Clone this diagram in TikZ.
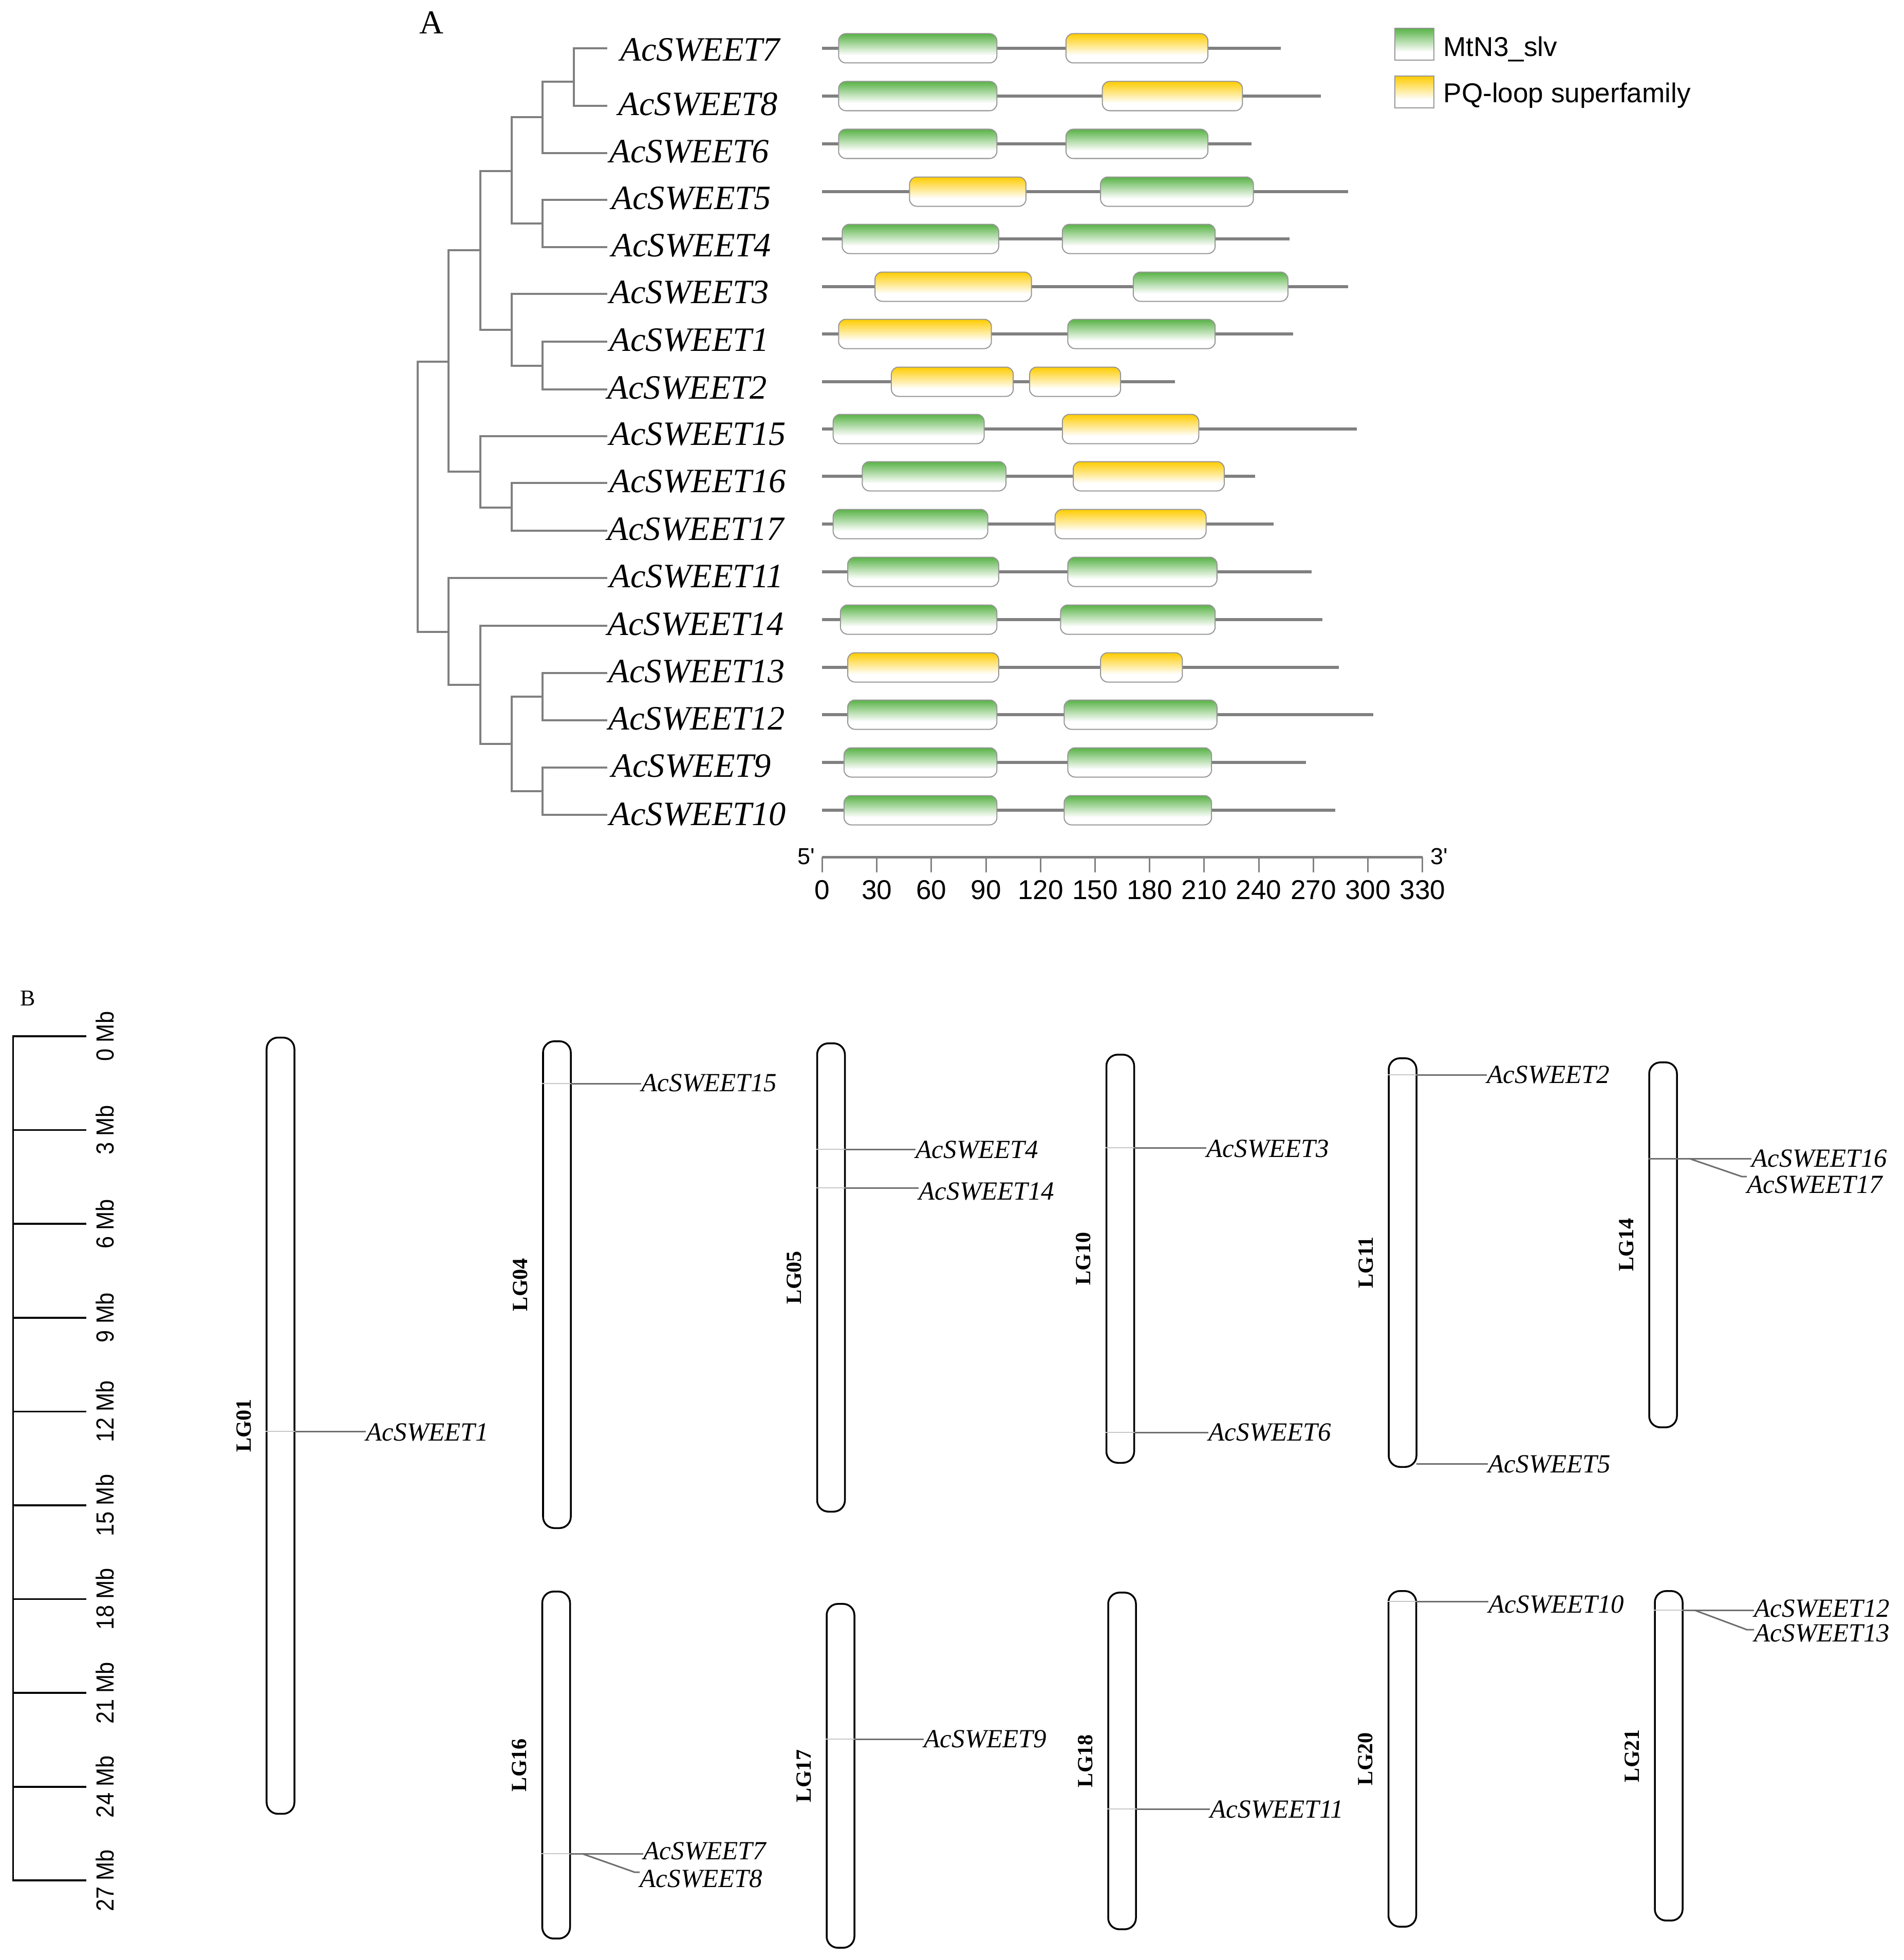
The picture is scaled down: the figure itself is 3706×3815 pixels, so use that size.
\documentclass[tikz,border=0pt]{standalone}
\usepackage{fontspec}
\setmainfont{Liberation Serif}
\newfontfamily\arialfont{Liberation Sans}
\newfontfamily\mbfont[FakeStretch=0.9]{Liberation Sans}
\usetikzlibrary{positioning}
\definecolor{treegray}{RGB}{128,128,128}
\definecolor{linegray}{RGB}{128,128,128}
\definecolor{boxedge}{RGB}{150,150,150}
\definecolor{linkgray}{RGB}{110,110,110}
\definecolor{mtngreen}{RGB}{88,178,70}
\definecolor{pqlyellow}{RGB}{255,204,0}
\pgfdeclareverticalshading{mtn}{100bp}{color(0bp)=(white); color(38bp)=(white); color(75bp)=(mtngreen); color(100bp)=(mtngreen)}
\pgfdeclareverticalshading{pql}{100bp}{color(0bp)=(white); color(38bp)=(white); color(75bp)=(pqlyellow); color(100bp)=(pqlyellow)}
\tikzset{
    branch/.style={draw=treegray, line width=0.04cm},
    leaflabel/.style={anchor=west, inner sep=0, font=\itshape\fontsize{18.9}{22}\selectfont},
    backbone/.style={draw=linegray, line width=0.06cm},
    dom/.style={draw=boxedge, line width=0.02cm, rounded corners=0.14cm, shade, shading=#1},
    tick/.style={draw=linegray, line width=0.03cm},
    axisnum/.style={anchor=base, inner sep=0, font=\arialfont\fontsize{15.1}{17}\selectfont},
    legendtext/.style={anchor=base west, inner sep=0, font=\arialfont\fontsize{15.1}{17}\selectfont},
    chrom/.style={draw, line width=0.035cm, rounded corners=0.22cm, minimum width=0.54cm, inner sep=0, fill=white},
    lglabel/.style={rotate=90, inner sep=0, font=\bfseries\fontsize{12}{14}\selectfont},
    bgene/.style={anchor=west, inner sep=0, font=\itshape\fontsize{14.5}{17}\selectfont},
    genelink/.style={draw=linkgray, line width=0.03cm},
    inlink/.style={draw=black!22, line width=0.02cm},
    mbtick/.style={line width=0.035cm},
    mblabel/.style={rotate=90, inner sep=0, font=\mbfont\fontsize{13.7}{16}\selectfont}
}

\begin{document}
\begin{tikzpicture}[x=0.01cm, y=-0.01cm]
\useasboundingbox (0,0) rectangle (3706,3815);

% panel A
\node[font=\fontsize{18.5}{20}\selectfont, inner sep=0] (pa) at (840,44) {A};

% leaves
\coordinate (l7) at (1182,94);
\coordinate (l8) at (1182,206);
\coordinate (l6) at (1182,298);
\coordinate (l5) at (1182,389);
\coordinate (l4) at (1182,481);
\coordinate (l3) at (1182,572);
\coordinate (l1) at (1182,665);
\coordinate (l2) at (1182,758);
\coordinate (l15) at (1182,849);
\coordinate (l16) at (1182,940);
\coordinate (l17) at (1182,1033);
\coordinate (l11) at (1182,1125);
\coordinate (l14) at (1182,1218);
\coordinate (l13) at (1182,1310);
\coordinate (l12) at (1182,1402);
\coordinate (l9) at (1182,1494);
\coordinate (l10) at (1182,1586);

% inner nodes
\coordinate (n78) at (1117,159);
\coordinate (n786) at (1056,228);
\coordinate (n54) at (1056,435);
\coordinate (na) at (995.6,333);
\coordinate (n12) at (1056,712);
\coordinate (n312) at (995.6,642);
\coordinate (nb) at (935,487);
\coordinate (n1617) at (995.6,988);
\coordinate (n15) at (935,918);
\coordinate (nc) at (873,704);
\coordinate (n1312) at (1056,1356);
\coordinate (n910) at (1056,1540);
\coordinate (nd) at (995.6,1448);
\coordinate (n14) at (935,1333);
\coordinate (n11) at (873,1230);
\coordinate (root) at (813,967);

\draw[branch] (l7) -| (n78) |- (l8);
\draw[branch] (n78) -| (n786) |- (l6);
\draw[branch] (l5) -| (n54) |- (l4);
\draw[branch] (n786) -| (na) |- (n54);
\draw[branch] (l1) -| (n12) |- (l2);
\draw[branch] (l3) -| (n312) |- (n12);
\draw[branch] (na) -| (nb) |- (n312);
\draw[branch] (l16) -| (n1617) |- (l17);
\draw[branch] (l15) -| (n15) |- (n1617);
\draw[branch] (nb) -| (nc) |- (n15);
\draw[branch] (l13) -| (n1312) |- (l12);
\draw[branch] (l9) -| (n910) |- (l10);
\draw[branch] (n1312) -| (nd) |- (n910);
\draw[branch] (l14) -| (n14) |- (nd);
\draw[branch] (l11) -| (n11) |- (n14);
\draw[branch] (nc) -| (root) |- (n11);

\node[leaflabel] (t7) at (1207,97) {AcSWEET7};
\node[leaflabel] (t8) at (1203,203) {AcSWEET8};
\node[leaflabel] (t6) at (1186,295) {AcSWEET6};
\node[leaflabel] (t5) at (1190,386) {AcSWEET5};
\node[leaflabel] (t4) at (1190,478) {AcSWEET4};
\node[leaflabel] (t3) at (1186,569) {AcSWEET3};
\node[leaflabel] (t1) at (1186,662) {AcSWEET1};
\node[leaflabel] (t2) at (1182,755) {AcSWEET2};
\node[leaflabel] (t15) at (1186,845) {AcSWEET15};
\node[leaflabel] (t16) at (1186,937) {AcSWEET16};
\node[leaflabel] (t17) at (1182,1030) {AcSWEET17};
\node[leaflabel] (t11) at (1186,1122) {AcSWEET11};
\node[leaflabel] (t14) at (1182,1215) {AcSWEET14};
\node[leaflabel] (t13) at (1184,1307) {AcSWEET13};
\node[leaflabel] (t12) at (1184,1399) {AcSWEET12};
\node[leaflabel] (t9) at (1190,1491) {AcSWEET9};
\node[leaflabel] (t10) at (1186,1585) {AcSWEET10};

% domains, x in amino acids
\begin{scope}[xshift=15.995cm, x=0.03538cm]
\foreach \y/\len/\da/\sa/\ea/\db/\sb/\eb in {
    94/252/mtn/9/96/pql/134/212,
    187/274/mtn/9/96/pql/154/231,
    280/236/mtn/9/96/mtn/134/212,
    373/289/pql/48/112/mtn/153/237,
    465/257/mtn/11/97/mtn/132/216,
    558/289/pql/29/115/mtn/171/256,
    650/259/pql/9/93/mtn/135/216,
    743/194/pql/38/105/pql/114/164,
    835/294/mtn/6/89/pql/132/207,
    927/238/mtn/22/101/pql/138/221,
    1020/248/mtn/6/91/pql/128/211,
    1113/269/mtn/14/97/mtn/135/217,
    1206/275/mtn/10/96/mtn/131/216,
    1299/284/pql/14/97/pql/153/198,
    1391/303/mtn/14/96/mtn/133/217,
    1484/266/mtn/12/96/mtn/135/214,
    1577/282/mtn/12/96/mtn/133/214}
{
    \draw[backbone] (0,\y) -- (\len,\y);
    \draw[dom=\da] (\sa,\y-28.5) rectangle (\ea,\y+28.5);
    \draw[dom=\db] (\sb,\y-28.5) rectangle (\eb,\y+28.5);
}
% scale
\draw[backbone, line width=0.05cm] (0,1668) -- (330,1668);
\foreach \t in {0,30,...,330} {
    \draw[tick] (\t,1668) -- (\t,1698);
    \node[axisnum] (ax\t) at (\t,1750) {\t};
}
\node[anchor=base, inner sep=0, font=\arialfont\fontsize{12.8}{14}\selectfont] (five) at (-8.9,1682) {5'};
\node[anchor=base, inner sep=0, font=\arialfont\fontsize{12.8}{14}\selectfont] (three) at (339.3,1682) {3'};
\end{scope}

% legend
\draw[dom=mtn, sharp corners] (2715,55) rectangle (2791,117);
\draw[dom=pql, sharp corners] (2715,148) rectangle (2791,210);
\node[legendtext] (lmtn) at (2809,110) {MtN3\_slv};
\node[legendtext] (lpql) at (2809,200) {PQ-loop superfamily};

% panel B
\node[font=\fontsize{12.5}{14}\selectfont, inner sep=0] (pb) at (54,1943) {B};

% scale bar
\draw[mbtick] (168,2017) -- (25.5,2017) -- (25.5,3660) -- (168,3660);
\foreach \i in {0,...,9} {
    \pgfmathtruncatemacro\mbv{3*\i}
    \draw[mbtick] (25.5,2017+182.6*\i) -- (168,2017+182.6*\i);
    \node[mblabel] (mb\i) at (204,2017+182.6*\i) {\mbv\ Mb};
}

% chromosomes
\node[chrom, minimum height=15.10cm] (lg01) at (546,2775) {};
\node[chrom, minimum height=9.47cm] (lg04) at (1084,2500.5) {};
\node[chrom, minimum height=9.11cm] (lg05) at (1617.5,2486.5) {};
\node[chrom, minimum height=7.94cm] (lg10) at (2180.5,2450) {};
\node[chrom, minimum height=7.95cm] (lg11) at (2730,2457.5) {};
\node[chrom, minimum height=7.10cm] (lg14) at (3237,2423) {};
\node[chrom, minimum height=6.75cm] (lg16) at (1082.5,3435.5) {};
\node[chrom, minimum height=6.69cm] (lg17) at (1636,3456.5) {};
\node[chrom, minimum height=6.55cm] (lg18) at (2184,3427.5) {};
\node[chrom, minimum height=6.53cm] (lg20) at (2729.5,3423.5) {};
\node[chrom, minimum height=6.41cm] (lg21) at (3248,3417.5) {};

\node[lglabel, left=0.28cm of lg01, anchor=south] (c01) {LG01};
\node[lglabel, left=0.28cm of lg04, anchor=south] (c04) {LG04};
\node[lglabel, left=0.28cm of lg05, anchor=south] (c05) {LG05};
\node[lglabel, left=0.28cm of lg10, anchor=south] (c10) {LG10};
\node[lglabel, left=0.28cm of lg11, anchor=south] (c11) {LG11};
\node[lglabel, left=0.28cm of lg14, anchor=south] (c14) {LG14};
\node[lglabel, left=0.28cm of lg16, anchor=south] (c16) {LG16};
\node[lglabel, left=0.28cm of lg17, anchor=south] (c17) {LG17};
\node[lglabel, left=0.28cm of lg18, anchor=south] (c18) {LG18};
\node[lglabel, left=0.28cm of lg20, anchor=south] (c20) {LG20};
\node[lglabel, left=0.28cm of lg21, anchor=south] (c21) {LG21};

% gene positions
\coordinate (p1) at (574,2786);
\coordinate (p15) at (1111,2109);
\coordinate (p4) at (1645,2237);
\coordinate (p14) at (1645,2312);
\coordinate (p3) at (2208,2234);
\coordinate (p6) at (2208,2788);
\coordinate (p2) at (2757,2092);
\coordinate (p5) at (2757,2849);
\coordinate (p16) at (3264,2255);
\coordinate (b17) at (3288,2255);
\coordinate (k17) at (3390,2290);
\coordinate (p7) at (1109,3608);
\coordinate (b8) at (1133,3608);
\coordinate (k8) at (1235,3644);
\coordinate (p9) at (1664,3385);
\coordinate (p11) at (2212,3521);
\coordinate (p10) at (2757,3117);
\coordinate (p12) at (3275,3134);
\coordinate (b13) at (3298,3134);
\coordinate (k13) at (3400,3172);

\node[bgene] (g1) at (712,2788) {AcSWEET1};
\node[bgene] (g15) at (1248,2108) {AcSWEET15};
\node[bgene] (g4) at (1782,2238) {AcSWEET4};
\node[bgene] (g14) at (1788,2319) {AcSWEET14};
\node[bgene] (g3) at (2348,2236) {AcSWEET3};
\node[bgene] (g6) at (2352,2788) {AcSWEET6};
\node[bgene] (g2) at (2894,2092) {AcSWEET2};
\node[bgene] (g5) at (2896,2850) {AcSWEET5};
\node[bgene] (g16) at (3409,2255) {AcSWEET16};
\node[bgene] (g17) at (3400,2306) {AcSWEET17};
\node[bgene] (g7) at (1252,3603) {AcSWEET7};
\node[bgene] (g8) at (1245,3657) {AcSWEET8};
\node[bgene] (g9) at (1798,3385) {AcSWEET9};
\node[bgene] (g11) at (2355,3522) {AcSWEET11};
\node[bgene] (g10) at (2897,3123) {AcSWEET10};
\node[bgene] (g12) at (3414,3131) {AcSWEET12};
\node[bgene] (g13) at (3414,3179) {AcSWEET13};

\draw[inlink] (lg01.west |- p1) -- (p1);
\draw[inlink] (lg04.west |- p15) -- (p15);
\draw[inlink] (lg05.west |- p4) -- (p4);
\draw[inlink] (lg05.west |- p14) -- (p14);
\draw[inlink] (lg10.west |- p3) -- (p3);
\draw[inlink] (lg10.west |- p6) -- (p6);
\draw[inlink] (lg11.west |- p2) -- (p2);
\draw[genelink] (lg14.west |- p16) -- (p16);
\draw[inlink] (lg16.west |- p7) -- (p7);
\draw[inlink] (lg17.west |- p9) -- (p9);
\draw[inlink] (lg18.west |- p11) -- (p11);
\draw[inlink] (lg20.west |- p10) -- (p10);
\draw[inlink] (lg21.west |- p12) -- (p12);

\draw[genelink] (p1) -- (g1.west |- p1);
\draw[genelink] (p15) -- (g15.west |- p15);
\draw[genelink] (p4) -- (g4.west |- p4);
\draw[genelink] (p14) -- (g14.west |- p14);
\draw[genelink] (p3) -- (g3.west |- p3);
\draw[genelink] (p6) -- (g6.west |- p6);
\draw[genelink] (p2) -- (g2.west |- p2);
\draw[genelink] (p5) -- (g5.west |- p5);
\draw[genelink] (p16) -- (g16.west |- p16);
\draw[genelink] (b17) -- (k17) -- (g17.west |- k17);
\draw[genelink] (p7) -- (g7.west |- p7);
\draw[genelink] (b8) -- (k8) -- (g8.west |- k8);
\draw[genelink] (p9) -- (g9.west |- p9);
\draw[genelink] (p11) -- (g11.west |- p11);
\draw[genelink] (p10) -- (g10.west |- p10);
\draw[genelink] (p12) -- (g12.west |- p12);
\draw[genelink] (b13) -- (k13) -- (g13.west |- k13);

\end{tikzpicture}
\end{document}
